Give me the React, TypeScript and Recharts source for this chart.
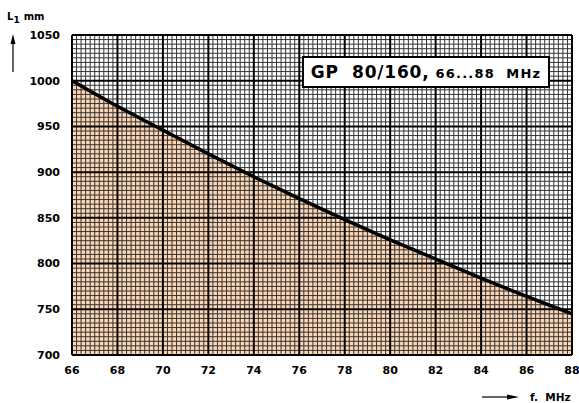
import React from "react";
import { ComposedChart, Area, Line, XAxis, YAxis, ReferenceLine } from "recharts";

// Frequency (MHz) and element length L1 (mm)
const frequency = [66, 68, 70, 72, 74, 76, 78, 80, 82, 84, 86, 88];
const lengthMm = [1000, 972, 946, 920, 895, 871, 848, 826, 805, 784, 764, 745];

const xTicks = [66, 68, 70, 72, 74, 76, 78, 80, 82, 84, 86, 88];
const yTicks = [700, 750, 800, 850, 900, 950, 1000, 1050];

const title = "GP  80/160,";
const subtitle = "66...88  MHz";
const yTitle = "L";
const yTitleSub = "1";
const yTitleUnit = "mm";
const xTitle = "f.  MHz";

const X_MIN = 66;
const X_MAX = 88;
const Y_MIN = 700;
const Y_MAX = 1050;
const X_MINOR_STEP = 0.2;
const Y_MINOR_STEP = 5;

const data = frequency.map((f, i) => ({ f, L: lengthMm[i] }));

const minorX: number[] = [];
for (let i = 0; i <= Math.round((X_MAX - X_MIN) / X_MINOR_STEP); i++) {
  const v = +(X_MIN + i * X_MINOR_STEP).toFixed(2);
  if (!xTicks.includes(v)) minorX.push(v);
}
const minorY: number[] = [];
for (let i = 0; i <= Math.round((Y_MAX - Y_MIN) / Y_MINOR_STEP); i++) {
  const v = Y_MIN + i * Y_MINOR_STEP;
  if (!yTicks.includes(v)) minorY.push(v);
}

const FONT = "'DejaVu Sans', sans-serif";
const tickStyle = { fontFamily: FONT, fontWeight: 700, fontSize: 11, fill: "#000" };

export default function App() {
  return (
    <div style={{ position: "absolute", left: 0, top: 0, width: 579, height: 403, background: "#fff" }}>
      <ComposedChart
        width={579}
        height={403}
        data={data}
        margin={{ top: 35, right: 7, bottom: 0, left: 0 }}
      >
        <XAxis
          dataKey="f"
          type="number"
          domain={[X_MIN, X_MAX]}
          ticks={xTicks}
          axisLine={false}
          tickLine={false}
          tickSize={0}
          tickMargin={11}
          height={48}
          tick={tickStyle}
          interval={0}
        />
        <YAxis
          type="number"
          domain={[Y_MIN, Y_MAX]}
          ticks={yTicks}
          axisLine={false}
          tickLine={false}
          tickSize={0}
          tickMargin={12}
          width={72}
          tick={tickStyle}
          interval={0}
        />
        <Area
          dataKey="L"
          type="monotone"
          stroke="none"
          fill="#fdd6b5"
          fillOpacity={1}
          isAnimationActive={false}
          baseValue={Y_MIN}
        />
        {minorX.map((v) => (
          <ReferenceLine key={"mx" + v} x={v} stroke="#333" strokeWidth={1} />
        ))}
        {minorY.map((v) => (
          <ReferenceLine key={"my" + v} y={v} stroke="#333" strokeWidth={1} />
        ))}
        {xTicks.map((v) => (
          <ReferenceLine key={"Mx" + v} x={v} stroke="#000" strokeWidth={2} />
        ))}
        {yTicks.map((v) => (
          <ReferenceLine key={"My" + v} y={v} stroke="#000" strokeWidth={2} />
        ))}
        <Line
          dataKey="L"
          type="monotone"
          stroke="#000"
          strokeWidth={3.5}
          dot={false}
          isAnimationActive={false}
        />
      </ComposedChart>

      <div
        style={{
          position: "absolute",
          left: 302,
          top: 56,
          width: 244,
          height: 28,
          border: "2px solid #000",
          background: "#fff",
          display: "flex",
          alignItems: "center",
          justifyContent: "center",
          fontFamily: FONT,
          fontWeight: 700,
          color: "#000",
          whiteSpace: "pre",
        }}
      >
        <span style={{ fontSize: 17, letterSpacing: 0.8 }}>{title}</span>
        <span style={{ fontSize: 13, letterSpacing: 1.2, marginLeft: 6, marginTop: 3 }}>{subtitle}</span>
      </div>

      <svg
        width={579}
        height={403}
        style={{ position: "absolute", left: 0, top: 0, pointerEvents: "none" }}
      >
        <text x={7} y={20} fontFamily={FONT} fontWeight={700} fontSize={10} fill="#000">
          {yTitle}
          <tspan dy={3} fontSize={9}>{yTitleSub}</tspan>
          <tspan dy={-3} dx={4}>{yTitleUnit}</tspan>
        </text>
        <line x1={13} y1={72} x2={13} y2={42} stroke="#000" strokeWidth={1.2} />
        <polygon points="10.5,44 15.5,44 13,34" fill="#000" />

        <line x1={482} y1={397} x2={510} y2={397} stroke="#000" strokeWidth={1.2} />
        <polygon points="507,394.5 507,399.5 519,397" fill="#000" />
        <text x={530} y={401} fontFamily={FONT} fontWeight={700} fontSize={10.5} fill="#000" style={{ whiteSpace: "pre" }}>
          {xTitle}
        </text>
      </svg>
    </div>
  );
}
